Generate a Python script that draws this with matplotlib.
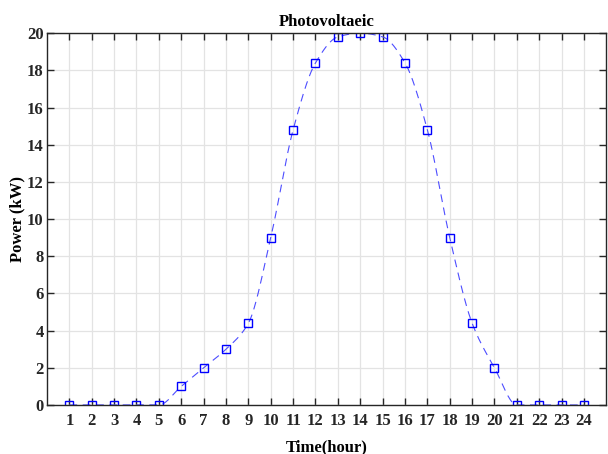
import matplotlib
matplotlib.use('Agg')
import matplotlib.pyplot as plt
import numpy as np

hours = list(range(1, 25))
power = [0, 0, 0, 0, 0, 1, 2, 3, 4.4, 9, 14.8, 18.4,
         19.8, 20, 19.8, 18.4, 14.8, 9, 4.4, 2, 0, 0, 0, 0]
y_ticks = [0, 2, 4, 6, 8, 10, 12, 14, 16, 18, 20]


def pchip_curve(x, y, n=20):
    # monotone cubic through the points, like MATLAB's smooth plot
    x = np.asarray(x, float)
    y = np.asarray(y, float)
    h = np.diff(x)
    d = np.diff(y) / h
    m = np.zeros_like(y)
    for i in range(1, len(y) - 1):
        if d[i - 1] * d[i] > 0:
            w1 = 2 * h[i] + h[i - 1]
            w2 = h[i] + 2 * h[i - 1]
            m[i] = (w1 + w2) / (w1 / d[i - 1] + w2 / d[i])
    m[0] = d[0]
    m[-1] = d[-1]
    xs, ys = [], []
    for i in range(len(x) - 1):
        t = np.linspace(0, 1, n, endpoint=False)
        h00 = 2 * t**3 - 3 * t**2 + 1
        h10 = t**3 - 2 * t**2 + t
        h01 = -2 * t**3 + 3 * t**2
        h11 = t**3 - t**2
        xs.extend(x[i] + t * h[i])
        ys.extend(h00 * y[i] + h10 * h[i] * m[i] + h01 * y[i + 1] + h11 * h[i] * m[i + 1])
    xs.append(x[-1])
    ys.append(y[-1])
    return np.array(xs), np.array(ys)


plt.rcParams['font.family'] = ['Liberation Serif', 'DejaVu Serif']
plt.rcParams['font.weight'] = 'bold'

fig = plt.figure(figsize=(6.08, 4.54), dpi=100)
ax = fig.add_axes([0.0773, 0.108, 0.92, 0.819])

cx, cy = pchip_curve(hours, power)
ax.plot(cx, cy, color='#4d4dff', linestyle=(0, (7, 5)), linewidth=0.8)
ax.plot(hours, power, linestyle='none', marker='s', markersize=6,
        markerfacecolor='none', markeredgecolor='#0000ff', markeredgewidth=1)

ax.set_xlim(0, 25)
ax.set_ylim(0, 20)
ax.set_xticks(hours)
ax.set_yticks(y_ticks)
ax.grid(True, color='#e3e3e3', linewidth=0.9)
ax.set_axisbelow(True)
ax.tick_params(direction='in', top=True, right=True, length=5,
               width=1, labelsize=12, colors='#262626')
ax.tick_params(axis='y', pad=2.5)
ax.tick_params(axis='x', pad=6)
for lab in ax.get_xticklabels() + ax.get_yticklabels():
    lab.set_color('#262626')
for s in ax.spines.values():
    s.set_color('#262626')
    s.set_linewidth(1)

ax.set_title('Photovoltaeic', fontsize=12, fontweight='bold', pad=5)
ax.set_xlabel('Time(hour)', fontsize=12, fontweight='bold', labelpad=7)
ax.set_ylabel('Power (kW)', fontsize=12, fontweight='bold', labelpad=1)

fig.savefig('out.png', dpi=100)
